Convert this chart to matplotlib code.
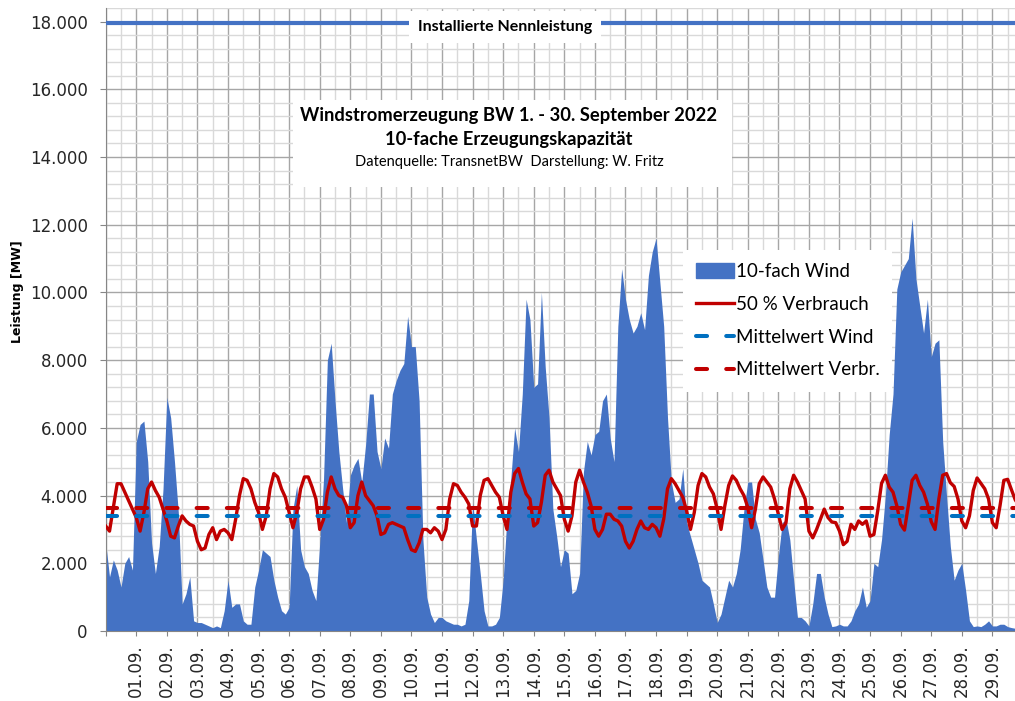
import numpy as np
import matplotlib
matplotlib.use("Agg")
import matplotlib.pyplot as plt
from matplotlib.ticker import FuncFormatter, MultipleLocator
from matplotlib.patches import Rectangle, Patch
from matplotlib.lines import Line2D

# 3-Stunden-Werte (0, 3, 6, ... 21 Uhr) je Tag, 1. - 30. September 2022, in MW
wind_mw = [
    2600, 1600, 2100, 1800, 1300, 2000, 2200, 1800,      # 01.
    5600, 6100, 6200, 5000, 2600, 1700, 2500, 4200,      # 02.
    6900, 6300, 5000, 3500, 800, 1100, 1600, 300,        # 03.
    250, 250, 200, 150, 100, 150, 100, 600,              # 04.
    1500, 700, 800, 800, 300, 200, 200, 1300,            # 05.
    1800, 2400, 2300, 2200, 1500, 1000, 600, 500,        # 06.
    700, 3600, 4300, 2400, 1900, 1700, 1200, 900,        # 07.
    2600, 4500, 8000, 8500, 6800, 5300, 4200, 3200,      # 08.
    4600, 4900, 5100, 4400, 5500, 7000, 7000, 5300,      # 09.
    4800, 5700, 5400, 7000, 7400, 7700, 7900, 9300,      # 10.
    8400, 8400, 6800, 2700, 1000, 500, 250, 400,         # 11.
    400, 300, 250, 200, 200, 150, 200, 900,              # 12.
    3800, 2700, 1700, 600, 150, 150, 200, 400,           # 13.
    1500, 3400, 4500, 6000, 5300, 7000, 9800, 9200,      # 14.
    7200, 7300, 10000, 7800, 6300, 3600, 2800, 1900,     # 15.
    2400, 2300, 1100, 1200, 1700, 4700, 5600, 5200,      # 16.
    5800, 5900, 6800, 7000, 5700, 5000, 9000, 10700,     # 17.
    9800, 9200, 8800, 9000, 9400, 8900, 10500, 11200,    # 18.
    11600, 10300, 9000, 6300, 4400, 3800, 3900, 4800,    # 19.
    3200, 2800, 2400, 2000, 1500, 1400, 1300, 800,       # 20.
    250, 500, 1000, 1500, 1300, 1700, 2400, 3600,        # 21.
    4400, 4400, 3300, 2900, 2100, 1300, 1000, 1000,      # 22.
    2200, 3200, 3300, 2700, 1500, 400, 400, 300,         # 23.
    150, 800, 1700, 1700, 1000, 500, 130, 150,           # 24.
    200, 150, 150, 300, 600, 800, 1300, 700,             # 25.
    900, 2000, 1900, 2700, 4000, 5800, 7000, 10100,      # 26.
    10600, 10800, 11000, 12200, 10400, 9600, 8800, 9800, # 27.
    8100, 8500, 8600, 5600, 4000, 2500, 1500, 1800,      # 28.
    2000, 1200, 300, 130, 150, 130, 200, 300,            # 29.
    150, 150, 200, 200, 130, 100, 80, 80,                # 30.
]

verbrauch_mw = [
    3100, 2950, 3650, 4350, 4350, 4100, 3850, 3600,      # 01.
    3350, 2950, 3500, 4200, 4400, 4150, 3950, 3600,      # 02.
    3250, 2800, 2750, 3100, 3400, 3250, 3150, 3100,      # 03.
    2650, 2400, 2450, 2850, 3050, 2700, 2950, 3000,      # 04.
    2900, 2700, 3300, 4000, 4500, 4450, 4200, 3800,      # 05.
    3500, 3000, 3400, 4200, 4650, 4550, 4200, 3950,      # 06.
    3500, 3050, 3500, 4200, 4550, 4550, 4250, 3900,      # 07.
    3000, 3300, 4100, 4550, 4200, 4000, 3950, 3700,      # 08.
    3050, 3200, 4000, 4400, 4000, 3850, 3700, 3400,      # 09.
    2850, 2900, 3150, 3200, 3150, 3100, 3050, 2700,      # 10.
    2400, 2350, 2600, 3000, 3000, 2900, 3050, 2950,      # 11.
    2700, 3000, 3900, 4350, 4300, 4100, 3950, 3750,      # 12.
    3100, 3100, 4000, 4450, 4500, 4300, 4100, 3950,      # 13.
    3400, 3000, 4100, 4650, 4800, 4400, 4050, 3900,      # 14.
    3100, 3200, 3800, 4600, 4750, 4400, 4200, 4000,      # 15.
    3300, 2950, 3400, 4400, 4750, 4400, 4100, 3700,      # 16.
    3000, 2800, 3000, 3450, 3450, 3300, 3250, 3100,      # 17.
    2650, 2450, 2650, 3000, 3250, 3050, 3000, 3150,      # 18.
    3050, 2800, 3300, 4200, 4500, 4350, 4150, 3950,      # 19.
    3550, 3000, 3500, 4300, 4650, 4550, 4250, 4050,      # 20.
    3600, 3000, 3700, 4300, 4580, 4450, 4200, 4000,      # 21.
    3650, 3050, 3600, 4350, 4550, 4400, 4250, 3900,      # 22.
    3450, 3000, 3200, 4200, 4600, 4400, 4150, 3900,      # 23.
    2950, 2750, 3000, 3300, 3600, 3350, 3220, 3200,      # 24.
    2950, 2550, 2650, 3150, 3000, 3250, 3150, 3250,      # 25.
    2800, 2850, 3550, 4360, 4600, 4250, 4100, 3700,      # 26.
    3150, 2980, 3700, 4450, 4600, 4300, 4100, 3750,      # 27.
    3230, 3000, 3900, 4600, 4650, 4380, 4270, 3900,      # 28.
    3250, 3050, 3400, 4150, 4520, 4360, 4200, 3900,      # 29.
    3200, 3050, 3700, 4450, 4480, 4170, 3870, 3700,      # 30.
]

nennleistung_mw = 17950
mittel_wind_mw = 3400
mittel_verbr_mw = 3620

tage = ["", "01.09.", "02.09.", "03.09.", "04.09.", "05.09.", "06.09.", "07.09.",
        "08.09.", "09.09.", "10.09.", "11.09.", "12.09.", "13.09.", "14.09.",
        "15.09.", "16.09.", "17.09.", "18.09.", "19.09.", "20.09.", "21.09.",
        "22.09.", "23.09.", "24.09.", "25.09.", "26.09.", "27.09.", "28.09.",
        "29.09."]

blau = "#4472C4"
rot = "#C00000"
blau_mw = "#0070C0"

t = np.arange(len(wind_mw)) / 8.0

W, H = 1015, 701
fig = plt.figure(figsize=(W / 100, H / 100), dpi=100)
ax = fig.add_axes([105.7 / W, 1 - 631 / H, 1 - 105.7 / W, 623 / H])

ax.fill_between(t, 0, wind_mw, color=blau, lw=0, zorder=2)
ax.plot(t, verbrauch_mw, color=rot, lw=2.4, zorder=3)
lw_mw = 2.9
ax.axhline(mittel_wind_mw, color=blau_mw, lw=lw_mw, dashes=(2.75, 4.75),
           dash_capstyle="round", zorder=4)
ax.axhline(mittel_verbr_mw, color=rot, lw=lw_mw, dashes=(2.75, 4.75),
           dash_capstyle="round", zorder=5)
ax.axhline(nennleistung_mw, color=blau, lw=3, zorder=4)
ax.text(13.06, nennleistung_mw - 110, "Installierte Nennleistung", ha="center", va="center",
        fontsize=11.5, fontweight="bold", family="Lato", color="black", zorder=6,
        bbox=dict(boxstyle="square,pad=0.55", fc="white", ec="none"))

ax.set_xlim(0, 29.74)
ax.set_ylim(0, 18400)
ax.set_xticks(range(0, 30))
ax.set_xticklabels(tage, rotation=90)
ax.xaxis.set_minor_locator(MultipleLocator(0.5))
ax.yaxis.set_major_locator(MultipleLocator(2000))
ax.yaxis.set_minor_locator(MultipleLocator(400))
ax.yaxis.set_major_formatter(FuncFormatter(lambda v, p: f"{v:,.0f}".replace(",", ".")))

ax.grid(which="major", color="#a6a6a6", lw=1, zorder=0)
ax.grid(which="minor", color="#d9d9d9", lw=1, zorder=0)
ax.set_axisbelow(True)
for s in ["top", "right"]:
    ax.spines[s].set_visible(False)
for s in ["left", "bottom"]:
    ax.spines[s].set_color("#868686")
ax.tick_params(axis="both", which="major", labelsize=12, colors="#868686",
               labelcolor="#262626")
ax.tick_params(axis="y", which="major", length=4.5, pad=8.5)
ax.tick_params(axis="x", which="major", length=3.6, pad=6)
ax.tick_params(which="minor", length=0)

fig.text(18 / W, 1 - 292 / H, "Leistung [MW]", rotation=90, ha="center", va="center",
         fontsize=9, fontweight="bold")

# Titelkasten
fig.patches.append(Rectangle((293 / W, 1 - 187 / H), 439 / W, 87 / H,
                             transform=fig.transFigure, fc="white", ec="none", zorder=1))
fig.text(509 / W, 1 - 115 / H, "Windstromerzeugung BW 1. - 30. September 2022",
         ha="center", va="center", fontsize=13.2, fontweight="bold", family="Lato", zorder=3)
fig.text(509 / W, 1 - 140 / H, "10-fache Erzeugungskapazität",
         ha="center", va="center", fontsize=13.2, fontweight="bold", family="Lato", zorder=3)
fig.text(509 / W, 1 - 162 / H, "Datenquelle: TransnetBW  Darstellung: W. Fritz",
         ha="center", va="center", fontsize=10.5, family="Lato", zorder=3)

handles = [
    Patch(color=blau),
    Line2D([], [], color=rot, lw=2.4),
    Line2D([], [], color=blau_mw, lw=lw_mw, dashes=(2.75, 4.75), dash_capstyle="round"),
    Line2D([], [], color=rot, lw=lw_mw, dashes=(2.75, 4.75), dash_capstyle="round"),
]
labels = ["10-fach Wind", "50 % Verbrauch", "Mittelwert Wind", "Mittelwert Verbr."]
leg = ax.legend(handles, labels, loc="upper left", bbox_to_anchor=(683 / W, 1 - 250 / H),
                bbox_transform=fig.transFigure, prop={"family": "Lato", "size": 13.5},
                frameon=True, fancybox=False, framealpha=1, edgecolor="none",
                handlelength=2.0, handleheight=0.8, handletextpad=0.1,
                labelspacing=0.84, borderpad=0.7, borderaxespad=0)
leg.set_zorder(10)

fig.savefig("out.png", dpi=100)
